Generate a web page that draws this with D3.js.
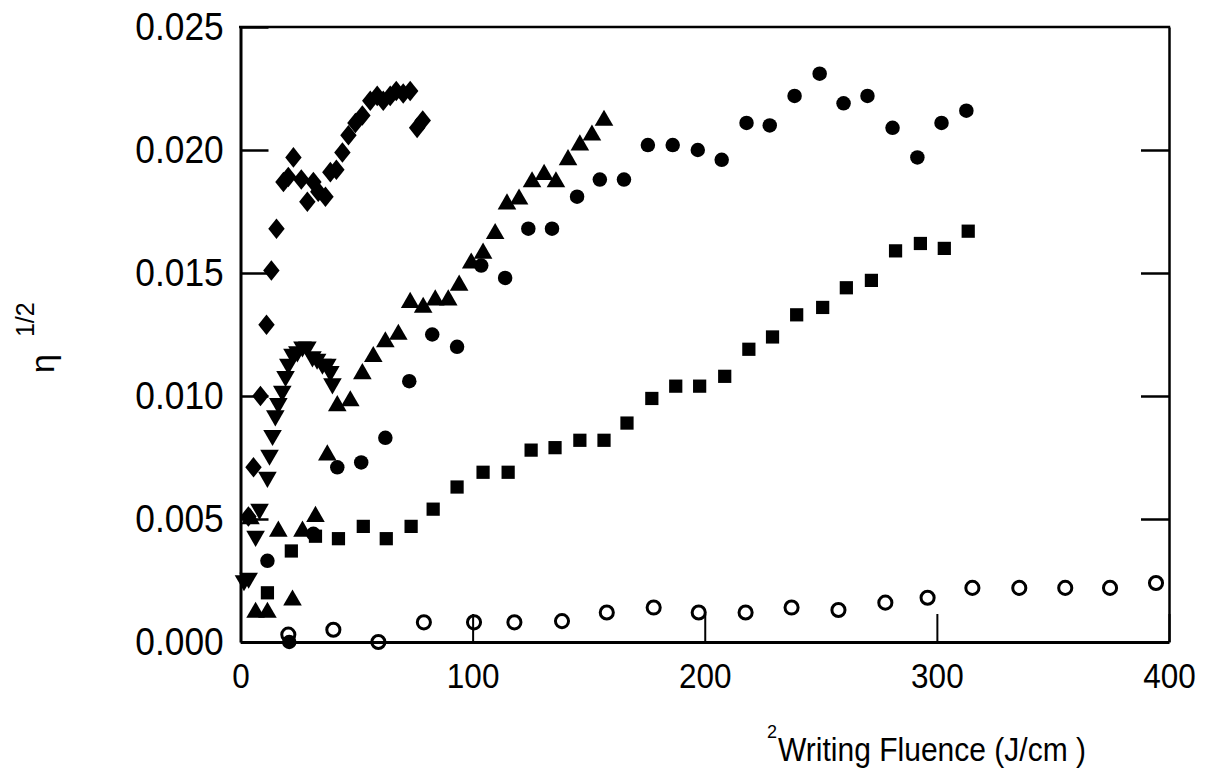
<!DOCTYPE html>
<html>
<head>
<meta charset="utf-8">
<style>
    html, body { margin: 0; padding: 0; background: #ffffff; }
    svg { display: block; }
    text { font-family: "Liberation Sans", Arial, sans-serif; fill: #000; }
    .axis path, .axis line { stroke: #000; }
</style>
</head>
<body>
<div id="chart"></div>
<script src="https://d3js.org/d3.v7.min.js"></script>
<script>
    // ---- data ----
    var diamondX = [3.4, 5.6, 8.6, 11.2, 13.3, 15.5, 18.5, 20.6, 22.8, 26.2, 28.8, 31.4, 33.5, 36.6, 38.7, 41.3, 43.9, 46.5, 49.5, 52.5, 55.9, 58.9, 61.5, 64.5, 67.1, 70.1, 73.1, 76.1, 78.5];
    var diamondY = [0.0051, 0.0071, 0.0100, 0.0129, 0.0151, 0.0168, 0.0187, 0.0189, 0.0197, 0.0188, 0.0179, 0.0187, 0.0183, 0.0181, 0.0191, 0.0192, 0.0199, 0.0206, 0.0211, 0.0214, 0.0220, 0.0222, 0.0220, 0.0222, 0.0224, 0.0223, 0.0224, 0.0209, 0.0212];

    var downX = [1.5, 3.5, 6.5, 8.2, 11.6, 12.5, 13.8, 15.0, 16.3, 18.0, 19.4, 20.6, 22.4, 24.5, 26.7, 28.8, 31.0, 33.0, 35.3, 37.4, 38.7, 39.6];
    var downY = [0.0025, 0.0026, 0.0043, 0.0054, 0.0067, 0.0076, 0.0084, 0.0092, 0.0097, 0.0102, 0.0108, 0.0113, 0.0117, 0.0118, 0.0120, 0.0120, 0.0116, 0.0115, 0.0113, 0.0113, 0.0110, 0.0105];

    var upX = [4.3, 6.5, 11.6, 16.3, 22.4, 26.7, 32.3, 37.4, 41.7, 47.3, 52.5, 57.2, 62.4, 68.0, 73.1, 78.7, 83.9, 89.5, 94.2, 99.4, 104.5, 109.7, 114.8, 120.0, 125.6, 130.8, 135.9, 141.1, 146.2, 151.4, 156.6];
    var upY = [0.0050, 0.0012, 0.0012, 0.0045, 0.0017, 0.0045, 0.0051, 0.0076, 0.0096, 0.0098, 0.0109, 0.0116, 0.0122, 0.0125, 0.0138, 0.0136, 0.0139, 0.0139, 0.0145, 0.0154, 0.0158, 0.0166, 0.0178, 0.0180, 0.0187, 0.0190, 0.0187, 0.0196, 0.0202, 0.0206, 0.0212];

    var dotX = [11.6, 21.0, 31.4, 41.7, 52.0, 62.4, 72.7, 82.6, 93.3, 103.7, 114.0, 124.0, 134.2, 145.0, 154.8, 165.2, 175.5, 186.2, 197.0, 207.3, 218.0, 228.0, 238.7, 249.5, 259.8, 270.1, 280.9, 291.6, 302.0, 312.7];
    var dotY = [0.0033, 0.0000, 0.0044, 0.0071, 0.0073, 0.0083, 0.0106, 0.0125, 0.0120, 0.0153, 0.0148, 0.0168, 0.0168, 0.0181, 0.0188, 0.0188, 0.0202, 0.0202, 0.0200, 0.0196, 0.0211, 0.0210, 0.0222, 0.0231, 0.0219, 0.0222, 0.0209, 0.0197, 0.0211, 0.0216];

    var squareX = [11.6, 21.9, 32.3, 42.2, 52.9, 62.8, 73.5, 83.0, 93.3, 104.5, 115.3, 125.2, 135.5, 146.2, 156.6, 166.5, 177.2, 187.5, 197.8, 208.6, 219.0, 229.2, 239.6, 250.8, 261.0, 271.8, 282.2, 292.9, 303.2, 313.5];
    var squareY = [0.0020, 0.0037, 0.0043, 0.0042, 0.0047, 0.0042, 0.0047, 0.0054, 0.0063, 0.0069, 0.0069, 0.0078, 0.0079, 0.0082, 0.0082, 0.0089, 0.0099, 0.0104, 0.0104, 0.0108, 0.0119, 0.0124, 0.0133, 0.0136, 0.0144, 0.0147, 0.0159, 0.0162, 0.0160, 0.0167];

    var openX = [20.6, 40.0, 59.4, 79.0, 100.6, 118.0, 138.5, 157.8, 178.0, 197.4, 217.6, 237.4, 257.6, 277.8, 296.0, 315.3, 335.5, 355.3, 374.6, 394.4];
    var openY = [0.0003, 0.0005, 0.0000, 0.0008, 0.0008, 0.0008, 0.00085, 0.0012, 0.0014, 0.0012, 0.0012, 0.0014, 0.0013, 0.0016, 0.0018, 0.0022, 0.0022, 0.0022, 0.0022, 0.0024];

    var xTicks = [0, 100, 200, 300, 400];
    var yTicks = [0, 0.005, 0.010, 0.015, 0.020, 0.025];

    // ---- layout ----
    var W = 1205, H = 778;
    var mLeft = 240.5, mRight = 1169, mTop = 27, mBottom = 642;

    var svg = d3.select("#chart").append("svg")
        .attr("width", W)
        .attr("height", H);

    svg.append("rect").attr("width", W).attr("height", H).attr("fill", "#fff");

    var x = d3.scaleLinear().domain([0, 400]).range([mLeft, mRight]);
    var y = d3.scaleLinear().domain([0, 0.025]).range([mBottom, mTop]);

    // left axis, ticks pointing inward
    var yAxis = d3.axisLeft(y)
        .tickValues(yTicks)
        .tickFormat(d3.format(".3f"))
        .tickSizeInner(-28)
        .tickSizeOuter(0)
        .tickPadding(18);

    var gy = svg.append("g")
        .attr("class", "axis")
        .attr("transform", "translate(" + mLeft + ",0)")
        .call(yAxis);
    gy.select(".domain").attr("stroke-width", 3);
    gy.selectAll(".tick line").attr("stroke-width", 2.5);
    gy.selectAll("text")
        .style("font-size", "38px")
        .attr("transform", "scale(0.93,1)");

    // bottom axis
    var xAxis = d3.axisBottom(x)
        .tickValues(xTicks)
        .tickFormat(d3.format("d"))
        .tickSizeInner(-28)
        .tickSizeOuter(0)
        .tickPadding(21);

    var gx = svg.append("g")
        .attr("class", "axis")
        .attr("transform", "translate(0," + mBottom + ")")
        .call(xAxis);
    gx.select(".domain").attr("stroke-width", 3);
    gx.selectAll(".tick line").attr("stroke-width", 2);
    gx.selectAll("text")
        .style("font-size", "35px")
        .attr("transform", "scale(0.9,1)");

    // right axis, ticks only
    var rAxis = d3.axisRight(y)
        .tickValues([0.005, 0.010, 0.015, 0.020])
        .tickFormat("")
        .tickSizeInner(-28)
        .tickSizeOuter(0);

    var gr = svg.append("g")
        .attr("class", "axis")
        .attr("transform", "translate(" + mRight + ",0)")
        .call(rAxis);
    gr.select(".domain").attr("stroke-width", 2.5);
    gr.selectAll(".tick line").attr("stroke-width", 2.5);

    // top frame line
    svg.append("line")
        .attr("x1", mLeft - 1.5).attr("x2", mRight + 1.2)
        .attr("y1", mTop).attr("y2", mTop)
        .attr("stroke", "#000")
        .attr("stroke-width", 2.5);

    // ---- markers ----
    var diamondType = {
        draw: function (ctx, size) {
            var r = Math.sqrt(size) / 2;
            ctx.moveTo(0, -r * 1.25);
            ctx.lineTo(r, 0);
            ctx.lineTo(0, r * 1.25);
            ctx.lineTo(-r, 0);
            ctx.closePath();
        }
    };

    function pts(xs, ys) {
        return xs.map(function (v, i) { return { x: v, y: ys[i] }; });
    }

    function plot(data, type, size, opts) {
        var g = svg.append("g");
        g.selectAll("path")
            .data(data)
            .enter().append("path")
            .attr("d", d3.symbol().type(type).size(size))
            .attr("transform", function (d) {
                return "translate(" + x(d.x) + "," + y(d.y) + ")" + (opts.rotate ? " rotate(180)" : "");
            })
            .attr("fill", opts.open ? "none" : "#000")
            .attr("stroke", opts.open ? "#000" : "none")
            .attr("stroke-width", opts.open ? 3 : 0);
    }

    plot(pts(openX, openY), d3.symbolCircle, 135, { open: true });
    plot(pts(squareX, squareY), d3.symbolSquare, 175, {});
    plot(pts(dotX, dotY), d3.symbolCircle, 165, {});
    plot(pts(upX, upY), d3.symbolTriangle, 150, {});
    plot(pts(downX, downY), d3.symbolTriangle, 150, { rotate: true });
    plot(pts(diamondX, diamondY), diamondType, 270, {});

    // ---- axis titles ----
    var yt = svg.append("text")
        .attr("transform", "translate(54,373) rotate(-90)")
        .style("font-size", "34px");
    yt.append("tspan").text("η");
    yt.append("tspan").attr("dx", 17).attr("dy", -20).style("font-size", "25px").text("1/2");

    svg.append("text")
        .attr("x", 778)
        .attr("y", 761)
        .attr("textLength", 308)
        .attr("lengthAdjust", "spacingAndGlyphs")
        .style("font-size", "33px")
        .text("Writing Fluence (J/cm )");

    svg.append("text")
        .attr("x", 767)
        .attr("y", 738)
        .style("font-size", "18px")
        .text("2");
</script>
</body>
</html>
